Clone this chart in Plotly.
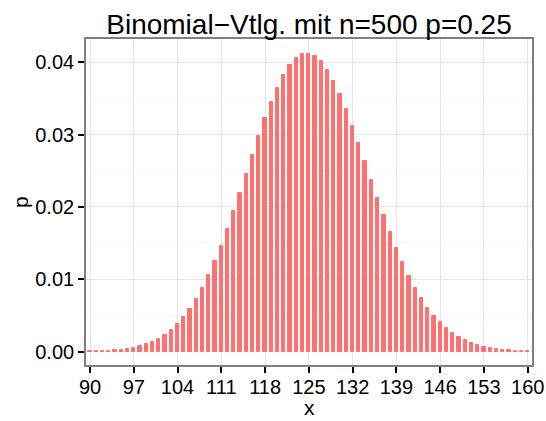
import plotly.graph_objects as go

# Binomial distribution n=500, p=0.25: outcomes and their probabilities
x_vals = list(range(90, 161))
p_vals = [
    0.0000415, 0.0000623, 0.0000923, 0.000135, 0.000195, 0.000278, 0.000391,
    0.000542, 0.000743, 0.001006, 0.001345, 0.001775, 0.002315, 0.002982,
    0.003794, 0.004770, 0.005925, 0.007272, 0.008821, 0.010575, 0.012529,
    0.014674, 0.016989, 0.019444, 0.022002, 0.024617, 0.027234, 0.029794,
    0.032235, 0.034492, 0.036504, 0.038213, 0.039570, 0.040535, 0.041080,
    0.041190, 0.040863, 0.040112, 0.038963, 0.037453, 0.035628, 0.033543,
    0.031256, 0.028828, 0.026318, 0.023784, 0.021277, 0.018844, 0.016523,
    0.014344, 0.012329, 0.010493, 0.008843, 0.007379, 0.006098, 0.004991,
    0.004045, 0.003247, 0.002582, 0.002033, 0.001586, 0.001225, 0.000938,
    0.000711, 0.000534, 0.000397, 0.000293, 0.000214, 0.000155, 0.000111,
    0.0000789,
]
x_ticks = list(range(90, 161, 7))
y_ticks = [0.0, 0.01, 0.02, 0.03, 0.04]

FONT = "Liberation Sans, Arial, sans-serif"
BAR = "rgb(255,113,113)"
W, H = 546, 421

fig = go.Figure(
    go.Bar(
        x=x_vals,
        y=p_vals,
        width=0.52,
        marker=dict(color=BAR, line=dict(color=BAR, width=1)),
        hoverinfo="x+y",
    )
)

axis_common = dict(
    showline=True,
    mirror=True,
    linecolor="#808080",
    linewidth=1.6,
    ticks="outside",
    ticklen=6,
    tickwidth=1.6,
    tickcolor="#000000",
    tickfont=dict(family=FONT, size=20, color="#000000"),
    showgrid=True,
    gridcolor="#E6E6E6",
    gridwidth=1,
    zeroline=False,
    automargin=False,
)

fig.update_layout(
    width=W,
    height=H,
    margin=dict(l=86, r=14, t=39, b=56),
    paper_bgcolor="white",
    plot_bgcolor="white",
    showlegend=False,
    bargap=0,
    font=dict(family=FONT, color="#000000"),
    title=dict(
        text="Binomial\u2212Vtlg. mit n=500 p=0.25",
        font=dict(family=FONT, size=28, color="#000000"),
        x=309 / W,
        xanchor="center",
        xref="container",
        y=1 - 24 / H,
        yanchor="middle",
        yref="container",
    ),
    xaxis=dict(
        axis_common,
        range=[89.36, 160.69],
        tickvals=x_ticks,
        ticktext=[str(v) for v in x_ticks],
        ticklabelstandoff=-3,
    ),
    yaxis=dict(
        axis_common,
        range=[-0.00184, 0.04322],
        tickvals=y_ticks,
        ticktext=[f"{v:.2f}" for v in y_ticks],
        minor=dict(dtick=0.005, tick0=0.005, showgrid=True, gridcolor="#F6F6F6", ticks=""),
    ),
    annotations=[
        # axis titles
        dict(text="x", xref="paper", x=0.5, yref="paper", y=-(408 - 365) / (H - 39 - 56),
             xanchor="center", yanchor="middle", showarrow=False,
             font=dict(family=FONT, size=21, color="#000000")),
        dict(text="p", xref="paper", x=-(86 - 20) / (W - 86 - 14), yref="paper", y=0.5,
             xanchor="center", yanchor="middle", textangle=-90, showarrow=False,
             font=dict(family=FONT, size=21, color="#000000")),
    ],
)

fig.write_html("out.html")
